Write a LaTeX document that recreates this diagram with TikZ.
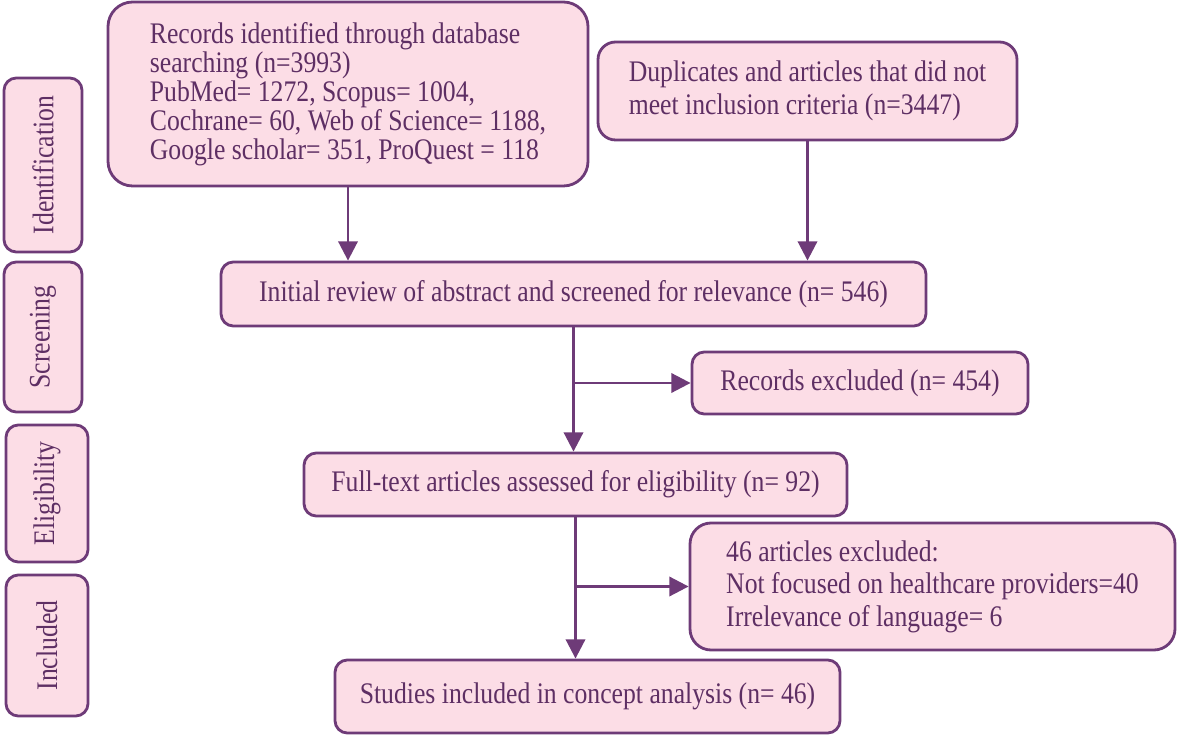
\documentclass[tikz,border=0pt]{standalone}
\usepackage{fontspec}
\setmainfont{Liberation Serif}[FakeStretch=0.86]
\usetikzlibrary{arrows.meta}

\definecolor{boxfill}{HTML}{FCDDE6}
\definecolor{boxline}{HTML}{6E3B78}
\definecolor{boxtext}{HTML}{5E2F64}

\begin{document}
\begin{tikzpicture}[
        box/.style={draw=boxline, fill=boxfill, line width=1.6pt, rounded corners=7pt,
            text=boxtext, inner sep=0pt, font=\fontsize{17}{18.5}\selectfont},
        stage/.style={box, rotate=90},
        flow/.style={-{Triangle[length=11pt, width=11pt]}, draw=boxline, line width=1.6pt}
    ]
        \useasboundingbox (0,0) rectangle (23.56,14.72);

        % stage labels on the left
        \node[stage, minimum width=3.48cm, minimum height=1.56cm] (ident) at (0.86, 11.42) {Identification};
        \node[stage, minimum width=3.00cm, minimum height=1.56cm] (screen) at (0.86, 7.98) {Screening};
        \node[stage, minimum width=2.74cm, minimum height=1.64cm] (elig) at (0.94, 4.85) {Eligibility};
        \node[stage, minimum width=2.82cm, minimum height=1.64cm] (incl) at (0.94, 1.81) {Included};

        \node[box, rounded corners=14pt, align=left, minimum width=9.6cm, minimum height=3.68cm,
            font=\fontsize{17}{16.5}\selectfont] (rec) at (6.96, 12.84)
            {Records identified through database\\ searching (n=3993)\\ PubMed= 1272, Scopus= 1004,\\
             Cochrane= 60, Web of Science= 1188,\\ Google scholar= 351, ProQuest = 118};
        \node[box, rounded corners=10pt, align=left, minimum width=8.38cm, minimum height=1.96cm] (dup) at (16.15, 12.90)
            {Duplicates and articles that did not\\ meet inclusion criteria (n=3447)};
        \node[box, minimum width=14.1cm, minimum height=1.28cm] (init) at (11.47, 8.84)
            {Initial review of abstract and screened for relevance (n= 546)};
        \node[box, minimum width=6.72cm, minimum height=1.24cm] (excl) at (17.20, 7.06) {Records excluded (n= 454)};
        \node[box, minimum width=10.86cm, minimum height=1.26cm] (full) at (11.51, 5.03)
            {Full-text articles assessed for eligibility (n= 92)};
        \node[box, rounded corners=12pt, align=left, minimum width=9.7cm, minimum height=2.54cm] (art) at (18.65, 2.99)
            {46 articles excluded:\\ Not focused on healthcare providers=40\\ Irrelevance of language= 6};
        \node[box, minimum width=10.1cm, minimum height=1.46cm] (stud) at (11.75, 0.79)
            {Studies included in concept analysis (n= 46)};

        \draw[flow] (rec.south) -- (rec.south |- init.north);
        \draw[flow] (dup.south) -- (dup.south |- init.north);
        \draw[flow] (init.south) -- (init.south |- full.north);
        \draw[flow] (init.south |- excl.west) -- (excl.west);
        \draw[flow] (full.south) -- (full.south |- stud.north);
        \draw[flow] (full.south |- art.west) -- (art.west);
    \end{tikzpicture}
\end{document}
